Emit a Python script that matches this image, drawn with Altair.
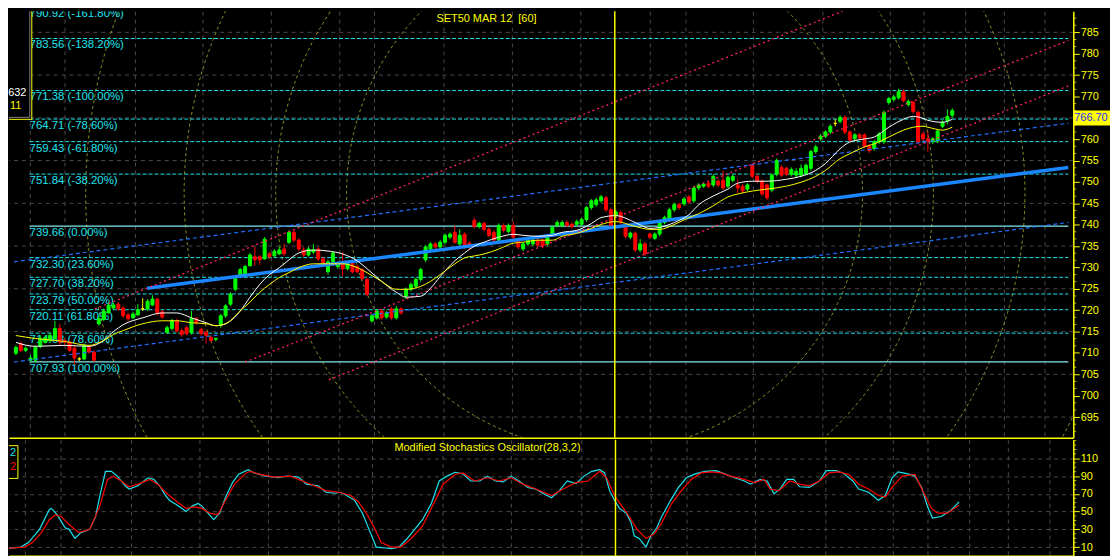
import altair as alt
import pandas as pd

# ------------------------------------------------------------------ data
chart_title = "SET50 MAR 12\u00a0\u00a0[60]"
osc_title = "Modified Stochastics Oscillator(28,3,2)"

# hourly bars, index 0..192
bar_open = [
    709.9, 712.2, 710.6, 708.3, 708.3, 711.5, 712.5, 712.9, 713.4, 715.7,
    712.9, 712.5, 711.1, 708.6, 708.6, 711.3, 710.2, 716.8, 717.8, 719.4,
    720.5, 721.4, 720.5, 718.9, 718.2, 718.9, 720.3, 720.3, 721.2, 722.6,
    719.6, 714.8, 715.7, 717.5, 715.2, 715.9, 714.8, 718.0, 715.5, 714.8,
    713.6, 713.2, 716.4, 718.7, 721.4, 724.9, 728.3, 728.3, 730.4, 732.5,
    732.5, 732.0, 733.2, 732.7, 733.2, 734.3, 735.9, 738.2, 736.4, 734.1,
    732.9, 733.6, 734.3, 732.0, 729.0, 731.3, 730.2, 730.9, 729.7, 730.9,
    730.2, 729.5, 727.2, 717.5, 718.2, 719.8, 718.4, 720.3, 718.2, 720.3,
    723.3, 724.9, 725.6, 727.2, 731.8, 734.3, 735.5, 734.8, 735.9, 737.1,
    738.2, 735.5, 737.8, 735.7, 741.0, 739.6, 740.3, 738.9, 738.2, 736.4,
    739.8, 738.4, 739.8, 736.4, 734.3, 735.5, 735.5, 736.4, 736.4, 735.5,
    737.8, 739.8, 739.8, 740.5, 740.1, 740.1, 740.1, 741.2, 744.0, 744.7,
    745.6, 746.3, 743.5, 742.1, 742.8, 739.8, 737.1, 738.0, 734.1, 735.5,
    737.8, 736.8, 737.8, 740.5, 741.2, 743.5, 744.7, 744.9, 746.5, 745.6,
    748.6, 749.0, 749.7, 749.3, 750.2, 750.4, 749.0, 750.4, 749.3, 749.0,
    748.3, 753.9, 751.3, 750.2, 749.3, 748.1, 751.8, 753.4, 753.2, 751.8,
    751.6, 751.6, 752.0, 753.2, 757.1, 760.1, 760.7, 761.7, 763.7, 764.2,
    765.1, 761.7, 760.1, 761.0, 761.0, 758.4, 757.8, 759.4, 759.4, 768.6,
    769.3, 769.7, 771.1, 768.1, 768.6, 766.3, 761.2, 760.1, 759.4, 759.6,
    763.0, 764.2, 765.6,
]
bar_high = [
    711.8, 712.7, 711.5, 709.5, 711.8, 714.1, 714.1, 714.8, 717.5, 716.8,
    713.4, 712.9, 711.8, 709.0, 712.2, 711.8, 710.6, 718.7, 720.3, 721.7,
    721.7, 721.9, 721.0, 719.4, 719.6, 721.4, 722.8, 722.6, 723.5, 722.8,
    720.1, 716.4, 718.0, 718.0, 715.7, 716.4, 719.8, 718.4, 715.9, 715.2,
    714.1, 713.6, 719.1, 721.4, 724.2, 727.9, 729.9, 730.6, 733.4, 734.8,
    732.9, 737.1, 733.6, 734.3, 734.8, 735.5, 738.7, 738.7, 736.8, 734.8,
    734.8, 735.5, 734.8, 732.5, 731.8, 733.8, 731.3, 733.6, 731.3, 731.3,
    730.6, 729.9, 727.6, 719.1, 720.3, 720.3, 719.8, 720.7, 721.0, 720.7,
    725.3, 726.5, 727.6, 729.9, 735.2, 735.9, 735.9, 736.4, 738.0, 738.2,
    739.8, 738.9, 738.2, 736.1, 741.7, 740.7, 740.7, 739.4, 738.7, 740.3,
    740.3, 740.3, 740.7, 736.8, 735.9, 736.8, 736.8, 736.8, 736.8, 737.5,
    739.8, 741.0, 741.0, 741.0, 740.5, 741.2, 741.7, 744.4, 746.0, 746.3,
    747.0, 746.7, 744.0, 743.5, 743.3, 740.3, 738.4, 738.4, 736.6, 735.9,
    738.2, 738.2, 741.0, 742.1, 744.0, 745.1, 745.1, 746.5, 747.0, 749.0,
    749.7, 749.9, 750.2, 751.8, 750.6, 752.7, 751.5, 751.8, 750.6, 749.5,
    749.7, 754.3, 751.8, 750.6, 749.7, 752.0, 755.5, 753.9, 753.6, 753.4,
    753.2, 754.1, 754.3, 757.5, 758.7, 761.2, 762.1, 763.5, 764.7, 765.6,
    765.6, 762.1, 761.4, 761.4, 761.4, 758.9, 759.8, 761.7, 766.7, 769.9,
    770.4, 771.8, 771.6, 769.3, 769.0, 766.7, 761.7, 761.7, 760.5, 762.4,
    764.4, 767.0, 767.2,
]
bar_low = [
    709.5, 710.2, 710.2, 707.9, 707.9, 711.1, 712.2, 712.5, 712.9, 711.8,
    711.8, 710.2, 707.2, 708.1, 708.3, 709.9, 707.9, 716.4, 717.5, 719.1,
    720.3, 719.8, 718.2, 717.5, 718.0, 718.7, 719.8, 719.8, 721.0, 718.7,
    718.0, 714.5, 715.2, 714.8, 713.8, 714.1, 714.3, 716.6, 714.1, 712.2,
    712.5, 712.7, 715.9, 718.2, 721.0, 724.4, 727.9, 727.9, 730.2, 730.4,
    730.6, 731.8, 732.0, 732.5, 732.9, 732.7, 735.5, 735.9, 733.8, 732.5,
    732.5, 733.2, 731.5, 730.4, 728.3, 730.9, 729.7, 727.9, 729.3, 728.6,
    728.6, 727.0, 723.3, 717.1, 717.8, 717.8, 718.0, 717.8, 717.8, 718.9,
    722.6, 724.4, 725.1, 726.7, 731.3, 733.8, 734.3, 734.3, 735.5, 736.6,
    735.5, 734.8, 734.3, 734.1, 739.1, 739.1, 738.4, 737.1, 735.9, 735.9,
    738.2, 738.0, 736.6, 734.3, 733.8, 735.0, 735.0, 734.8, 734.5, 735.0,
    737.3, 739.4, 739.4, 739.4, 739.1, 739.6, 739.6, 740.7, 743.5, 744.2,
    745.1, 743.0, 739.4, 741.7, 740.1, 736.8, 736.6, 733.6, 733.6, 732.7,
    736.6, 736.4, 737.3, 740.1, 740.7, 743.0, 743.5, 744.4, 744.9, 745.1,
    748.1, 748.6, 748.6, 748.8, 748.8, 748.1, 748.6, 749.9, 747.4, 747.4,
    747.9, 750.9, 749.7, 746.7, 745.8, 747.6, 751.3, 751.1, 751.3, 751.3,
    751.1, 751.1, 751.6, 752.7, 756.6, 759.6, 760.3, 761.2, 763.0, 763.7,
    761.2, 759.4, 759.6, 759.8, 758.0, 756.8, 757.3, 758.9, 758.9, 768.1,
    768.8, 769.3, 768.6, 767.6, 766.0, 758.9, 759.6, 757.1, 758.9, 759.1,
    762.6, 763.5, 765.1,
]
bar_close = [
    711.3, 710.6, 711.1, 708.8, 711.3, 713.4, 713.6, 714.1, 715.7, 712.5,
    712.5, 710.6, 708.8, 708.6, 711.8, 710.2, 708.3, 718.0, 719.8, 721.2,
    721.2, 720.3, 718.7, 718.0, 719.1, 720.1, 720.3, 722.1, 722.6, 719.4,
    718.4, 715.9, 717.5, 715.2, 714.3, 714.5, 718.0, 717.1, 714.5, 714.1,
    712.9, 713.4, 718.7, 721.0, 723.7, 727.4, 729.5, 730.2, 732.9, 731.8,
    731.8, 736.6, 732.5, 733.8, 734.1, 733.2, 738.2, 736.4, 734.3, 732.9,
    734.3, 734.1, 732.0, 730.9, 731.3, 733.4, 730.9, 729.7, 730.9, 729.0,
    729.0, 727.4, 723.7, 718.7, 719.8, 718.2, 719.4, 718.2, 720.3, 719.4,
    724.9, 726.0, 727.2, 729.5, 734.8, 735.5, 734.8, 735.9, 737.5, 737.8,
    735.9, 737.5, 734.8, 734.8, 739.6, 740.3, 738.9, 737.5, 736.4, 739.8,
    738.7, 739.8, 737.1, 734.8, 735.5, 736.4, 736.4, 735.2, 735.0, 737.1,
    739.4, 740.5, 740.5, 739.8, 739.6, 740.7, 741.2, 744.0, 745.6, 745.8,
    746.5, 743.5, 739.8, 743.0, 740.5, 737.3, 738.0, 734.1, 735.5, 733.2,
    737.1, 737.8, 740.5, 741.7, 743.5, 744.7, 744.0, 746.0, 745.3, 748.6,
    749.3, 749.5, 749.0, 751.3, 749.3, 748.6, 751.1, 751.3, 748.6, 747.9,
    749.3, 751.3, 750.2, 747.2, 746.3, 751.6, 755.0, 751.6, 751.8, 752.9,
    752.5, 753.2, 753.9, 757.1, 758.2, 760.7, 761.7, 763.0, 763.7, 765.1,
    761.7, 759.8, 761.0, 760.3, 758.4, 757.3, 759.4, 761.2, 766.3, 769.5,
    769.9, 771.1, 769.0, 768.8, 766.5, 759.4, 760.1, 759.6, 760.1, 761.9,
    764.0, 765.3, 766.7,
]

# moving averages at selected bars
ma_bar = [0, 4, 10, 15, 18, 20, 22, 26, 30, 33, 36, 39, 41, 43, 46, 48, 50, 52, 54, 56,
          58, 61, 64, 67, 70, 72, 75, 78, 80, 83, 85, 87, 90, 92, 94, 96, 99, 102, 104, 107,
          110, 112, 115, 118, 120, 123, 127, 130, 132, 135, 138, 140, 143, 146, 148, 151, 154, 158, 161, 164,
          166, 169, 171, 174, 176, 179, 182, 184, 186, 187, 190, 192]
ma_white = [712.46, 711.54, 711.77, 711.54, 712.92, 714.99, 716.60, 718.21, 719.36, 719.36,
            718.21, 717.06, 716.37, 716.83, 719.82, 723.04, 726.03, 728.33, 729.94, 731.77,
            733.38, 734.07, 733.84, 733.15, 731.54, 729.71, 726.72, 724.19, 723.04, 723.27,
            725.11, 727.87, 731.54, 733.38, 734.99, 735.91, 737.06, 737.75, 737.52, 737.29,
            737.52, 738.21, 738.67, 740.28, 741.66, 742.12, 740.51, 739.13, 739.36, 740.51,
            742.35, 744.65, 746.72, 748.33, 749.71, 750.17, 750.17, 750.63, 751.32, 752.70,
            754.31, 757.75, 759.36, 760.05, 760.51, 762.81, 764.65, 765.34, 764.88, 764.42,
            763.96, 764.65]
ma_yellow = [714.07, 713.38, 712.69, 711.77, 712.92, 714.30, 715.22, 716.83, 717.52, 717.52,
             717.06, 716.83, 716.37, 716.83, 719.82, 721.89, 724.19, 726.03, 727.64, 728.79,
             729.94, 730.85, 730.85, 730.85, 729.94, 728.79, 726.72, 724.88, 724.88, 725.57,
             726.72, 728.33, 730.85, 732.23, 732.69, 733.15, 734.30, 735.68, 735.91, 736.37,
             736.37, 737.29, 737.98, 739.13, 740.05, 740.74, 739.59, 738.90, 738.90, 740.05,
             741.66, 742.58, 744.42, 746.49, 747.18, 747.87, 748.33, 749.02, 749.94, 751.32,
             752.70, 755.45, 756.60, 758.21, 758.90, 760.51, 762.12, 762.81, 763.04, 762.81,
             762.12, 762.81]

# Fibonacci retracement levels
fib_levels = [790.92, 783.56, 771.38, 764.71, 759.43, 751.84, 739.66, 732.30, 727.70,
              723.79, 720.11, 714.63, 707.93]
fib_pcts = ["-161.80%", "-138.20%", "-100.00%", "-78.60%", "-61.80%", "-38.20%", "0.00%",
            "23.60%", "38.20%", "50.00%", "61.80%", "78.60%", "100.00%"]
fib_solid = [False, False, False, False, False, False, True,
             False, False, False, False, False, True]
fib_start_bar = 2.8

# trend lines (bar index, price)
trend_id = ["B0", "B0", "B1", "B1", "B2", "B2", "L1", "L1", "L2", "L2", "L3", "L3"]
trend_bar = [26.9, 215.8, -0.4, 215.8, -0.4, 215.8, 16.2, 175.6, 47.0, 215.8, 64.2, 215.8]
trend_price = [725.11, 753.39, 731.32, 763.74, 707.87, 740.52, 720.3, 792.7, 707.87, 783.05,
               703.74, 772.47]

# Fibonacci arcs centre
arc_center_bar = 120.7
arc_center_price = 747.41

cursor_bar = 122.8
day_breaks = [2.8, 10, 24.4, 38.2, 52.2, 66.4, 73.4, 87.6, 101.6, 115.8, 130, 137.2,
              151.2, 165.4, 179.2, 186.2, 194.6, 202.6, 211]
grid_levels = [695, 705, 715, 725, 735, 745, 755, 765, 775, 785]
price_labels = list(range(695, 790, 5))
last_price = 766.70

# stochastic oscillator
osc_cyan_bar = [-0.4, 2, 3.6, 5.8, 7.8, 8.2, 9.4, 11, 11.8, 13, 14.2, 16, 17.2, 18, 19.2, 20.4, 21.6,
                23.2, 24, 25.8, 27.8, 29, 30.2, 31.4, 32.2, 33.8, 35.6, 36.8, 38, 38.8, 40, 41.2,
                42.4, 43.6, 45, 46.2, 48.2, 49.4, 51.8, 54.2, 56, 58.4, 60, 62.4, 64, 65.8, 67,
                68.2, 69.8, 71.4, 73, 74.2, 76, 77.2, 78.8, 80.4, 82, 83.6, 85.4, 87, 88.6, 90.2,
                91.8, 93.4, 95.2, 96.8, 98.4, 100, 101.6, 103.2, 105, 106.6, 108.2, 109.8, 111.4,
                113, 114.8, 116.4, 118, 119.6, 120.6, 121.6, 122.6, 123.6, 125, 126, 126.6, 127.6,
                129, 130, 131.2, 132.2, 134, 135.6, 137.2, 139, 141, 143.2, 145, 147, 149, 150.2,
                152.2, 153.6, 155, 156.2, 157.6, 159, 160.2, 162.2, 164.2, 165.6, 167.6, 169, 171,
                172.2, 174.2, 176.2, 177.6, 179, 180.2, 182.2, 183.6, 185, 186.2, 187.2, 189, 191,
                192.6]
osc_cyan = [8.9, 10.0, 15.4, 30.0, 52.5, 53.6, 46.3, 31.8, 30.0, 19.8, 26.3, 30.0, 44.5, 66.3, 95.4,
            95.4, 90.0, 79.1, 75.4, 79.1, 88.1, 86.3, 79.1, 68.1, 62.7, 57.2, 50.0, 56.2, 59.1, 56.2,
            48.2, 40.9, 48.2, 66.3, 82.7, 91.8, 97.3, 93.6, 90.0, 88.2, 90.0, 88.9, 80.9, 79.1, 71.8,
            70.7, 71.8, 68.1, 62.7, 48.2, 26.3, 10.0, 9.0, 8.2, 10.0, 19.1, 30.0, 40.9, 59.1, 84.5,
            90.0, 94.3, 92.5, 84.5, 84.5, 90.0, 84.5, 83.4, 90.0, 84.5, 77.2, 75.4, 70.0, 65.6, 73.6,
            84.5, 81.6, 90.0, 95.4, 97.2, 93.6, 73.6, 62.7, 53.6, 48.2, 37.3, 22.7, 19.8, 10.0, 22.7,
            31.8, 44.5, 62.7, 77.2, 88.1, 92.5, 95.4, 96.1, 92.5, 88.1, 84.5, 80.9, 86.3, 84.5, 70.0,
            75.4, 86.3, 86.3, 78.0, 77.2, 84.5, 96.1, 96.1, 93.6, 84.5, 75.4, 71.8, 62.7, 68.1, 88.1,
            94.7, 92.5, 90.0, 77.2, 55.4, 42.7, 44.5, 51.8, 60.9]
osc_red_bar = [-0.4, 2.8, 4.4, 6.2, 7.8, 9, 10.2, 11.8, 13.8, 16, 18, 19.6, 20.8, 22.4, 24, 25.8,
               28.2, 29.8, 31.4, 33.8, 35.6, 37.2, 38.8, 40.4, 42, 43.6, 45.4, 47.8, 48.6, 50.2,
               53.4, 56.8, 59.2, 61.6, 64, 66.6, 69, 70.6, 72.2, 73.8, 75.2, 77.2, 79.2, 81.2, 83.6,
               86.2, 87.8, 90.2, 91.8, 94.2, 96.8, 99.2, 101.6, 104, 106.6, 109.8, 112.2, 114.8,
               117.2, 118.8, 119.6, 121, 122.6, 124.2, 125.6, 127.2, 129, 130.6, 132.2, 134.2,
               136.2, 138.2, 140.2, 142.2, 144.2, 146.2, 149, 151, 153, 154.2, 156, 158.2, 160.2,
               162.2, 164.2, 166.2, 168.2, 170.2, 172.2, 174.2, 176.2, 177.6, 179, 181, 183.6,
               185.2, 187, 188.2, 190.2, 192.6]
osc_red = [8.9, 10.0, 15.4, 26.3, 40.9, 46.3, 44.5, 35.4, 26.3, 30.0, 55.4, 86.3, 90.0, 84.5, 78.0,
           80.9, 86.3, 80.9, 71.8, 60.9, 53.6, 55.4, 53.6, 48.2, 46.3, 62.7, 80.9, 93.6, 95.4, 92.5,
           88.9, 90.0, 84.5, 79.1, 73.6, 71.8, 68.1, 60.9, 48.2, 31.8, 15.4, 10.0, 10.0, 19.1, 33.6,
           62.7, 80.9, 91.8, 93.6, 84.5, 88.1, 84.5, 88.1, 80.9, 75.4, 68.1, 75.4, 82.7, 84.5, 91.8,
           95.4, 88.1, 68.1, 55.4, 44.5, 30.0, 19.8, 24.5, 37.3, 59.1, 73.6, 86.3, 93.6, 94.7, 93.6,
           90.0, 86.3, 82.7, 86.3, 75.4, 73.6, 84.5, 80.9, 79.1, 84.5, 93.6, 94.7, 91.8, 80.9, 75.4,
           68.1, 66.3, 77.2, 90.0, 91.8, 73.6, 53.6, 48.2, 48.2, 57.2]
osc_labels = [10, 30, 50, 70, 90, 110]

# ------------------------------------------------------------------ style
W, H_MAIN, H_OSC = 1073, 430, 117
SX = W / 1081.0
X_DOMAIN = [-0.4, 215.8]
PRICE_DOMAIN = [690.16, 789.94]
OSC_DOMAIN = [0.2, 131.0]
ARC_RADII = [262, 334, 427, 527]

BG = "#000000"
GRID = "#4a4a4a"
YEL = "#ffff00"
CYAN = "#1ee4ee"
CYAN_SOLID = "#7fe9f0"
GREEN = "#00ff00"
RED = "#ff0000"
BLUE = "#1a86ff"
BLUE_D = "#2070ff"
PINK = "#ff2266"
OLIVE = "#94942a"
FONT = "Liberation Sans"

price_minor = [round(690 + k * 5 / 3, 3) for k in range(1, 60) if k % 3 != 0 and 690 + k * 5 / 3 < 789.9]
osc_minor = [v for v in range(5, 131, 5) if v not in osc_labels]

x_scale = alt.Scale(domain=X_DOMAIN, nice=False, zero=False)
x_axis = alt.Axis(values=day_breaks, labels=False, ticks=False, title=None, domainColor=YEL,
                  domainWidth=1.5, grid=True, gridColor=GRID, gridDash=[4, 4], gridWidth=1)


def X(field):
    return alt.X(field, type="quantitative", scale=x_scale, axis=x_axis)


# the price tag on the axis hides the label lying under it
tag_hidden_label = 765
p_scale = alt.Scale(domain=PRICE_DOMAIN, nice=False, zero=False)
p_axis = alt.Axis(orient="right", values=price_labels, format="d", title=None, grid=False,
                  domainColor=YEL, domainWidth=1.5, tickColor=YEL, tickSize=6, tickWidth=1,
                  labelColor=YEL, labelFont=FONT, labelFontSize=11, labelPadding=1,
                  labelExpr=f"datum.value == {tag_hidden_label} ? '' : datum.label")


def P(field):
    return alt.Y(field, type="quantitative", scale=p_scale, axis=p_axis)


o_scale = alt.Scale(domain=OSC_DOMAIN, nice=False, zero=False)
o_axis = alt.Axis(orient="right", values=osc_labels, format="d", title=None, grid=True,
                  gridColor=GRID, gridDash=[4, 4], gridWidth=1, domainColor=YEL, domainWidth=1.5,
                  tickColor=YEL, tickSize=6, tickWidth=1, labelColor=YEL, labelFont=FONT,
                  labelFontSize=11, labelPadding=1)


def O(field):
    return alt.Y(field, type="quantitative", scale=o_scale, axis=o_axis)


one = pd.DataFrame({"k": [0]})

# ------------------------------------------------------------------ main panel
bars = pd.DataFrame({"i": list(range(len(bar_close))), "o": bar_open, "h": bar_high,
                     "l": bar_low, "c": bar_close})
bars["dir"] = ["up" if c > o else ("down" if c < o else "flat") for o, c in zip(bar_open, bar_close)]
dir_scale = alt.Scale(domain=["up", "down", "flat"], range=[GREEN, RED, YEL])

hgrid = alt.Chart(pd.DataFrame({"v": grid_levels})).mark_rule(
    color=GRID, strokeDash=[4, 4], strokeWidth=1).encode(y=P("v"))

arc_df = pd.DataFrame({"i": [arc_center_bar], "v": [arc_center_price]})
arcs = [alt.Chart(arc_df).mark_arc(theta=0, theta2=6.2832, fillOpacity=0, stroke=OLIVE,
                                   strokeWidth=1, strokeDash=[3, 3], clip=True).encode(
    x=X("i"), y=P("v"), radius=alt.value(r * SX)) for r in ARC_RADII]

fib = pd.DataFrame({"v": fib_levels,
                    "label": [f"{v:.2f} ({p})" for v, p in zip(fib_levels, fib_pcts)],
                    "solid": fib_solid})
fib["x0"] = fib_start_bar
fib["x1"] = X_DOMAIN[1]
fib_dash = alt.Chart(fib).transform_filter("!datum.solid").mark_rule(
    color=CYAN, strokeDash=[4, 2], strokeWidth=1, clip=True).encode(
    x=X("x0"), x2=alt.X2("x1"), y=P("v"))
fib_full = alt.Chart(fib).transform_filter("datum.solid").mark_rule(
    color=CYAN_SOLID, strokeWidth=1.2, clip=True).encode(
    x=X("x0"), x2=alt.X2("x1"), y=P("v"))
fib_text = alt.Chart(fib).mark_text(
    align="left", baseline="alphabetic", dy=10, color=CYAN, font=FONT, fontSize=11.5,
    clip=True).encode(x=X("x0"), y=P("v"), text="label:N")

wicks = alt.Chart(bars).mark_rule(strokeWidth=1).encode(
    x=X("i"), y=P("l"), y2=alt.Y2("h"),
    color=alt.Color("dir:N", scale=dir_scale, legend=None))
bodies = alt.Chart(bars).mark_bar(size=3, strokeWidth=1).encode(
    x=X("i"), y=P("o"), y2=alt.Y2("c"),
    color=alt.Color("dir:N", scale=dir_scale, legend=None),
    stroke=alt.Stroke("dir:N", scale=dir_scale, legend=None))

trend = pd.DataFrame({"id": trend_id, "i": trend_bar, "v": trend_price})
tl_thick = alt.Chart(trend).transform_filter("datum.id == 'B0'").mark_line(
    color=BLUE, strokeWidth=3.5, clip=True).encode(x=X("i"), y=P("v"))
tl_blue = alt.Chart(trend).transform_filter("datum.id == 'B1' || datum.id == 'B2'").mark_line(
    color=BLUE_D, strokeDash=[4, 3], strokeWidth=1.2, clip=True).encode(
    x=X("i"), y=P("v"), detail="id:N")
tl_pink = alt.Chart(trend).transform_filter("indexof(datum.id, 'L') == 0").mark_line(
    color=PINK, strokeDash=[2, 3], strokeWidth=1.3, clip=True).encode(
    x=X("i"), y=P("v"), detail="id:N")

ma = pd.DataFrame({"i": ma_bar, "white": ma_white, "yellow": ma_yellow})
ma_w = alt.Chart(ma).mark_line(color="#ffffff", strokeWidth=1, interpolate="monotone").encode(
    x=X("i"), y=P("white"))
ma_y = alt.Chart(ma).mark_line(color=YEL, strokeWidth=1, interpolate="monotone").encode(
    x=X("i"), y=P("yellow"))

cursor_df = pd.DataFrame({"i": [cursor_bar]})
cursor_main = alt.Chart(cursor_df).mark_rule(color=YEL, strokeWidth=1.5).encode(x=X("i"))

minor_main = alt.Chart(pd.DataFrame({"v": price_minor})).mark_tick(
    orient="horizontal", size=3, thickness=1, color=YEL).encode(x=alt.value(W + 1.5), y=P("v"))

title_main = alt.Chart(pd.DataFrame({"t": [chart_title]})).mark_text(
    color=YEL, font=FONT, fontSize=11, align="center", baseline="middle").encode(
    x=alt.value(485 * SX), y=alt.value(7.5), text="t:N")

box_fill = alt.Chart(one).mark_rect(color=BG).encode(
    x=alt.value(0), x2=alt.value(23), y=alt.value(0), y2=alt.value(109))
box_r = alt.Chart(one).mark_rule(color=YEL, strokeWidth=1).encode(
    x=alt.value(23), y=alt.value(0), y2=alt.value(109))
box_b = alt.Chart(one).mark_rule(color=YEL, strokeWidth=1).encode(
    x=alt.value(0), x2=alt.value(23), y=alt.value(109))
box_ri = alt.Chart(one).mark_rule(color="#808080", strokeWidth=1).encode(
    x=alt.value(21), y=alt.value(0), y2=alt.value(107))
box_bi = alt.Chart(one).mark_rule(color="#808080", strokeWidth=1).encode(
    x=alt.value(0), x2=alt.value(21), y=alt.value(107))
box_t1 = alt.Chart(pd.DataFrame({"t": ["632"]})).mark_text(
    color="#ffffff", font=FONT, fontSize=11, align="right", baseline="middle").encode(
    x=alt.value(17.5), y=alt.value(82), text="t:N")
box_t2 = alt.Chart(pd.DataFrame({"t": ["11"]})).mark_text(
    color=YEL, font=FONT, fontSize=11, align="right", baseline="middle").encode(
    x=alt.value(12.5), y=alt.value(96), text="t:N")

tag = alt.Chart(pd.DataFrame({"v": [last_price], "t": [f"{last_price:.2f}"]}))
tag_rect = tag.mark_rect(color=YEL, y2Offset=15).encode(
    x=alt.value(W), x2=alt.value(W + 37), y=P("v"), y2=alt.Y2("v"))
tag_text = tag.mark_text(color="#1a2cff", font=FONT, fontSize=11, align="left",
                         baseline="middle", dx=1, dy=7.5).encode(
    x=alt.value(W), y=P("v"), text="t:N")

main = alt.layer(
    hgrid, *arcs, fib_dash, fib_full, fib_text, wicks, bodies, tl_thick, tl_blue, tl_pink,
    ma_w, ma_y, cursor_main, minor_main, box_fill, box_r, box_b, box_ri, box_bi, box_t1,
    box_t2, title_main, tag_rect, tag_text
).properties(width=W, height=H_MAIN)

# ------------------------------------------------------------------ oscillator panel
osc_c = pd.DataFrame({"i": osc_cyan_bar, "v": osc_cyan})
osc_r = pd.DataFrame({"i": osc_red_bar, "v": osc_red})
line_c = alt.Chart(osc_c).mark_line(color=CYAN, strokeWidth=1.2, clip=True).encode(
    x=X("i"), y=O("v"))
line_r = alt.Chart(osc_r).mark_line(color=RED, strokeWidth=1.2, clip=True).encode(
    x=X("i"), y=O("v"))
cursor_osc = alt.Chart(cursor_df).mark_rule(color=YEL, strokeWidth=1.5).encode(x=X("i"))
minor_osc = alt.Chart(pd.DataFrame({"v": osc_minor})).mark_tick(
    orient="horizontal", size=3, thickness=1, color=YEL).encode(x=alt.value(W + 1.5), y=O("v"))
title_osc = alt.Chart(pd.DataFrame({"t": [osc_title]})).mark_text(
    color=YEL, font=FONT, fontSize=11, align="center", baseline="middle").encode(
    x=alt.value(486 * SX), y=alt.value(8.5), text="t:N")
obox_fill = alt.Chart(one).mark_rect(color=BG).encode(
    x=alt.value(0), x2=alt.value(9), y=alt.value(6), y2=alt.value(39))
obox_t = alt.Chart(one).mark_rule(color=YEL).encode(x=alt.value(0), x2=alt.value(9), y=alt.value(6))
obox_b = alt.Chart(one).mark_rule(color=YEL).encode(x=alt.value(0), x2=alt.value(9), y=alt.value(39))
obox_r = alt.Chart(one).mark_rule(color=YEL).encode(x=alt.value(9), y=alt.value(6), y2=alt.value(39))
obox_c = alt.Chart(pd.DataFrame({"t": ["2"]})).mark_text(
    color=CYAN, font=FONT, fontSize=11, align="center", baseline="middle").encode(
    x=alt.value(4), y=alt.value(13), text="t:N")
obox_rd = alt.Chart(pd.DataFrame({"t": ["2"]})).mark_text(
    color=RED, font=FONT, fontSize=11, align="center", baseline="middle").encode(
    x=alt.value(4), y=alt.value(28), text="t:N")

osc = alt.layer(
    line_c, line_r, cursor_osc, minor_osc, title_osc, obox_fill, obox_t, obox_b, obox_r,
    obox_c, obox_rd
).properties(width=W, height=H_OSC)

chart = alt.vconcat(main, osc, spacing=0).properties(
    padding=0, background=BG
).configure_view(strokeWidth=0)

chart.save("out.html", embed_options={"renderer": "svg", "actions": False})
